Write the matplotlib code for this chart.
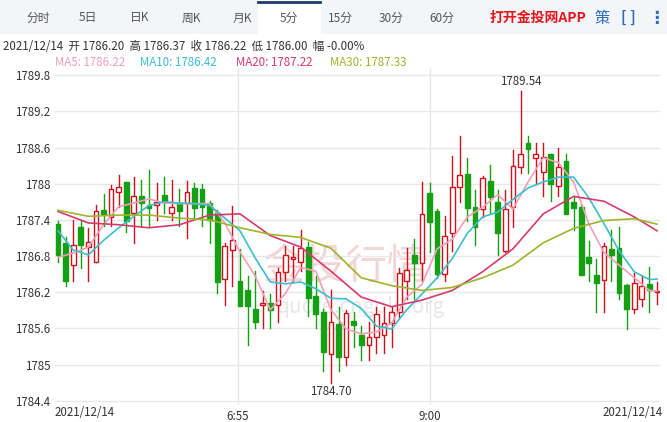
import numpy as np
import matplotlib.pyplot as plt
from matplotlib.patches import Rectangle

plt.rcParams['font.family'] = ['Noto Sans CJK SC', 'DejaVu Sans']

# 5-minute candles
opens = [1787.34, 1787.01, 1786.66, 1787.29, 1786.95, 1786.70, 1787.57, 1787.45, 1787.86, 1788.03,
         1787.51, 1787.79, 1787.64, 1787.64, 1787.82, 1787.51, 1787.68, 1787.68, 1787.93, 1787.91,
         1787.68, 1787.51, 1786.42, 1786.90, 1786.38, 1786.23, 1785.93, 1785.99, 1786.03, 1785.99,
         1786.54, 1786.75, 1786.71, 1786.95, 1786.14, 1785.87, 1785.17, 1785.68, 1785.12, 1785.72,
         1785.49, 1785.32, 1785.46, 1785.49, 1785.69, 1785.88, 1786.39, 1786.82, 1786.69, 1787.85,
         1787.55, 1786.50, 1787.18, 1787.95, 1788.16, 1787.61, 1787.58, 1788.04, 1787.70, 1786.89,
         1787.61, 1788.27, 1788.68, 1788.42, 1788.20, 1788.49, 1787.97, 1788.38, 1787.69, 1787.61,
         1786.78, 1786.49, 1786.41, 1786.92, 1786.94, 1786.32, 1785.92, 1786.09, 1786.33, 1786.20]
closes = [1786.81, 1786.39, 1786.98, 1786.99, 1787.04, 1787.55, 1787.50, 1787.91, 1787.95, 1787.39,
          1787.79, 1787.68, 1787.59, 1787.70, 1787.71, 1787.61, 1787.55, 1787.86, 1787.59, 1787.62,
          1787.40, 1786.37, 1786.97, 1787.06, 1785.97, 1785.97, 1785.70, 1786.03, 1785.91, 1786.53,
          1786.81, 1786.78, 1786.94, 1786.10, 1785.84, 1785.21, 1785.71, 1785.12, 1785.85, 1785.65,
          1785.32, 1785.46, 1785.84, 1785.69, 1785.88, 1786.52, 1786.57, 1786.69, 1787.49, 1787.37,
          1786.50, 1787.14, 1787.95, 1788.14, 1787.60, 1787.29, 1788.10, 1787.78, 1787.18, 1787.58,
          1788.29, 1788.49, 1788.58, 1788.50, 1788.45, 1787.99, 1788.27, 1787.50, 1787.60, 1786.48,
          1786.68, 1786.36, 1786.96, 1786.82, 1786.18, 1785.92, 1786.36, 1786.31, 1786.23, 1786.22]
highs = [1787.38, 1787.11, 1787.40, 1787.40, 1787.26, 1787.64, 1787.83, 1787.98, 1788.14, 1788.03,
         1788.12, 1788.07, 1788.23, 1788.02, 1788.12, 1788.07, 1787.91, 1788.05, 1788.02, 1788.00,
         1787.72, 1787.56, 1787.01, 1787.63, 1786.91, 1786.47, 1786.55, 1786.22, 1786.17, 1786.61,
         1786.97, 1786.97, 1787.23, 1787.03, 1786.47, 1785.93, 1786.24, 1785.96, 1785.91, 1785.88,
         1785.64, 1785.70, 1785.96, 1785.96, 1785.96, 1786.60, 1786.94, 1787.08, 1788.03, 1788.01,
         1787.58, 1787.46, 1788.46, 1788.80, 1788.43, 1787.90, 1788.13, 1788.31, 1787.90, 1787.90,
         1788.56, 1789.54, 1788.80, 1788.68, 1788.68, 1788.49, 1788.59, 1788.50, 1787.79, 1787.66,
         1787.05, 1786.76, 1787.02, 1787.23, 1787.29, 1786.34, 1786.52, 1786.47, 1786.62, 1786.37]
lows = [1786.70, 1786.30, 1786.39, 1786.60, 1786.39, 1786.70, 1787.30, 1787.30, 1787.62, 1787.20,
        1787.01, 1787.30, 1787.30, 1787.40, 1787.51, 1787.40, 1787.30, 1787.10, 1787.43, 1787.30,
        1787.01, 1786.19, 1785.99, 1786.30, 1785.97, 1785.33, 1785.60, 1785.60, 1785.60, 1785.70,
        1786.38, 1786.37, 1786.56, 1785.81, 1785.60, 1784.89, 1784.70, 1784.90, 1785.00, 1785.30,
        1785.08, 1785.08, 1785.19, 1785.19, 1785.30, 1785.77, 1786.09, 1786.09, 1786.39, 1786.86,
        1786.44, 1786.39, 1786.89, 1787.69, 1787.39, 1786.99, 1787.45, 1787.50, 1786.82, 1786.86,
        1787.29, 1788.18, 1788.18, 1788.00, 1787.79, 1787.71, 1787.79, 1787.50, 1787.23, 1786.48,
        1786.39, 1785.88, 1785.88, 1786.39, 1786.09, 1785.59, 1785.85, 1785.97, 1785.88, 1786.00]

# moving averages read every other candle
ma_idx = list(range(0, 80, 2)) + [79]
ma5 = [1786.78, 1786.85, 1786.95, 1787.32, 1787.62, 1787.68, 1787.75, 1787.68, 1787.67, 1787.67,
       1787.67, 1787.35, 1786.87, 1786.47, 1785.91, 1786.18, 1786.61, 1786.55, 1785.91, 1785.59,
       1785.51, 1785.54, 1785.69, 1786.12, 1786.33, 1786.92, 1787.08, 1787.45, 1787.61, 1787.82,
       1787.58, 1788.03, 1788.43, 1788.35, 1788.03, 1787.34, 1786.86, 1786.65, 1786.44, 1786.23, 1786.22]
ma10 = [1787.22, 1786.90, 1786.82, 1787.06, 1787.27, 1787.46, 1787.64, 1787.70, 1787.68, 1787.67,
        1787.64, 1787.43, 1787.22, 1786.77, 1786.37, 1786.34, 1786.37, 1786.26, 1786.10, 1786.09,
        1785.93, 1785.64, 1785.59, 1785.91, 1786.17, 1786.44, 1786.76, 1787.18, 1787.45, 1787.53,
        1787.74, 1787.93, 1788.03, 1788.11, 1788.11, 1787.77, 1787.34, 1786.89, 1786.54, 1786.41, 1786.42]
ma20_idx = [0, 4, 8, 12, 16, 20, 24, 28, 32, 36, 40, 44, 48, 52, 56, 60, 64, 68, 72, 76, 79]
ma20 = [1787.54, 1787.35, 1787.32, 1787.27, 1787.32, 1787.48, 1787.50, 1787.14, 1786.95, 1786.55,
        1786.12, 1785.96, 1786.07, 1786.23, 1786.54, 1786.92, 1787.50, 1787.79, 1787.71, 1787.45, 1787.22]
ma30 = [1787.56, 1787.46, 1787.48, 1787.48, 1787.43, 1787.40, 1787.27, 1787.16, 1787.11, 1786.93,
        1786.44, 1786.31, 1786.23, 1786.28, 1786.44, 1786.65, 1787.02, 1787.26, 1787.39, 1787.42, 1787.33]

yticks = [1784.4, 1785, 1785.6, 1786.2, 1786.8, 1787.4, 1788, 1788.6, 1789.2, 1789.8]
xtick_pos = [23.7, 49]
xtick_lab = ['6:55', '9:00']

RED = '#d0111b'
GREEN = '#15a013'

fig = plt.figure(figsize=(6.67, 4.22), dpi=100)

# tab bar
bar = fig.add_axes([0, 1 - 34/422, 1, 34/422])
bar.set_xlim(0, 667); bar.set_ylim(34, 0); bar.axis('off')
bar.add_patch(Rectangle((0, 0), 667, 34, color='#f3f5f8'))
bar.add_patch(Rectangle((258, 0), 62, 34, color='white'))
bar.plot([258, 320], [2, 2], color='#1c3b6e', lw=2)
tabs = [('分时', 38), ('5日', 88), ('日K', 140), ('周K', 191), ('月K', 242), ('5分', 289),
        ('15分', 340), ('30分', 391), ('60分', 442)]
for t, x in tabs:
    bar.text(x, 18, t, ha='center', va='center', fontsize=8.5, color='#555555')
bar.text(538, 18, '打开金投网APP', ha='center', va='center', fontsize=10, color='#e3161b', weight='bold')
bar.text(602, 18, '策', ha='center', va='center', fontsize=11, color='#2a6ebb')
bar.text(628, 18, '[ ]', ha='center', va='center', fontsize=11, color='#2a6ebb', weight='bold')
bar.text(656, 18, '⋮', ha='center', va='center', fontsize=12, color='#2a6ebb', weight='bold')

fig.text(3/667, 1 - 47/422, '2021/12/14  开 1786.20  高 1786.37  收 1786.22  低 1786.00  幅 -0.00%',
         fontsize=8.3, color='#333333', va='center')
for t, x, c in [('MA5: 1786.22', 55, '#f0a0b8'), ('MA10: 1786.42', 140, '#3cbdd0'),
                ('MA20: 1787.22', 236, '#d93a6c'), ('MA30: 1787.33', 330, '#9db52c')]:
    fig.text(x/667, 1 - 63/422, t, fontsize=8.3, color=c, va='center')

ax = fig.add_axes([55/667, 17/422, 605/667, 337/422])
ax.set_xlim(-0.4, 79.4)
ax.set_ylim(1784.33, 1789.92)
for s in ax.spines.values():
    s.set_visible(False)
ax.set_yticks(yticks)
ax.set_yticklabels(['%g' % v for v in yticks])
ax.set_xticks(xtick_pos)
ax.set_xticklabels(xtick_lab)
ax.tick_params(length=0, labelsize=8.3, colors='#333333')
ax.grid(True, color='#e8e8e8', lw=1)
ax.set_axisbelow(True)
fig.text(85/667, 1 - 413/422, '2021/12/14', fontsize=8.3, color='#333333', ha='center', va='center')
fig.text(633/667, 1 - 413/422, '2021/12/14', fontsize=8.3, color='#333333', ha='center', va='center')

ax.text(38, 1786.6, '金投行情', fontsize=30, color='#f3d6d6', ha='center', va='center', zorder=0)
ax.text(40, 1785.95, 'quote.cngold.org', fontsize=15, color='#e8e8e8', ha='center', va='center', zorder=0)

w = 0.62
for i in range(len(opens)):
    o, c, h, l = opens[i], closes[i], highs[i], lows[i]
    col = RED if c >= o else GREEN
    ax.plot([i, i], [l, h], color=col, lw=1, zorder=2)
    lo, hi = min(o, c), max(o, c)
    if c >= o:
        ax.add_patch(Rectangle((i - w/2, lo), w, max(hi - lo, 0.01), facecolor='white',
                               edgecolor=col, lw=1, zorder=3))
    else:
        ax.add_patch(Rectangle((i - w/2, lo), w, max(hi - lo, 0.01), facecolor=col,
                               edgecolor=col, lw=1, zorder=3))

ax.plot(ma_idx, ma5, color='#f0a0b8', lw=1.2, zorder=4)
ax.plot(ma_idx, ma10, color='#3cbdd0', lw=1.2, zorder=4)
ax.plot(ma20_idx, ma20, color='#d93a6c', lw=1.2, zorder=4)
ax.plot(ma20_idx, ma30, color='#9db52c', lw=1.2, zorder=4)

hi_i = int(np.argmax(highs))
lo_i = int(np.argmin(lows))
ax.text(hi_i, highs[hi_i] + 0.04, '%.2f' % highs[hi_i], ha='center', va='bottom', fontsize=8.3, color='#333333')
ax.text(lo_i, lows[lo_i] - 0.04, '%.2f' % lows[lo_i], ha='center', va='top', fontsize=8.3, color='#333333')

fig.savefig('out.png', dpi=100)
